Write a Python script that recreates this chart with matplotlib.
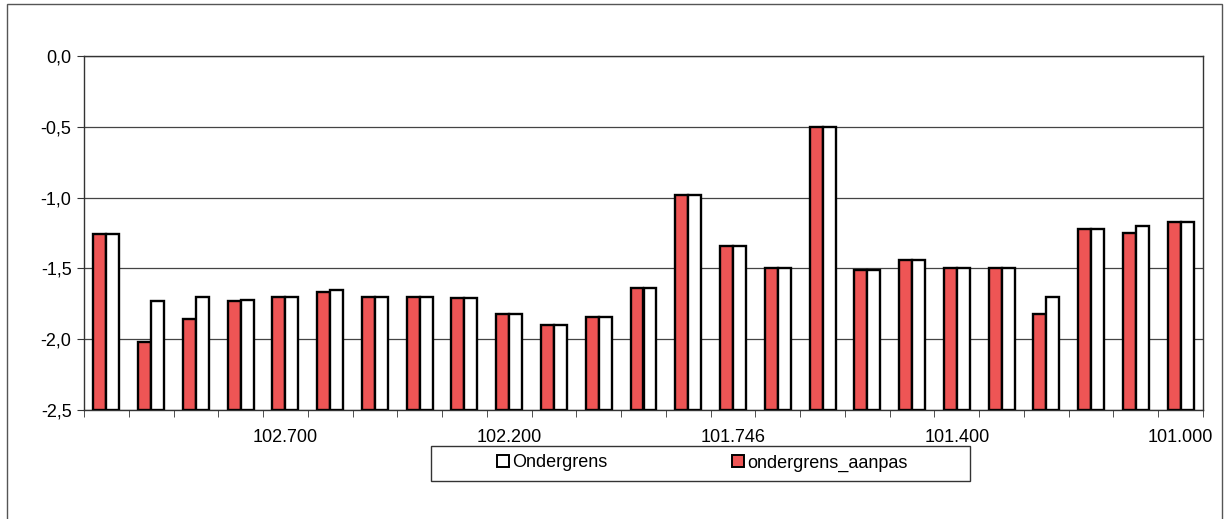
import numpy as np
import matplotlib
matplotlib.use('Agg')
import matplotlib.pyplot as plt
from matplotlib.patches import Rectangle

plt.rcParams['font.family'] = ['Liberation Sans', 'DejaVu Sans']

#Data
km_labels = ['', '', '', '', '102.700',
             '', '', '', '', '102.200',
             '', '', '', '', '101.746',
             '', '', '', '', '101.400',
             '', '', '', '', '101.000']
ondergrens_aanpas = [-1.26, -2.02, -1.86, -1.73, -1.70,
                     -1.67, -1.70, -1.70, -1.71, -1.82,
                     -1.90, -1.84, -1.64, -0.98, -1.34,
                     -1.50, -0.50, -1.51, -1.44, -1.50,
                     -1.50, -1.82, -1.22, -1.25, -1.17]
ondergrens = [-1.26, -1.73, -1.70, -1.72, -1.70,
              -1.65, -1.70, -1.70, -1.71, -1.82,
              -1.90, -1.84, -1.64, -0.98, -1.34,
              -1.50, -0.50, -1.51, -1.44, -1.50,
              -1.50, -1.70, -1.22, -1.20, -1.17]

red = '#EE5555'
fs = 13
x = np.arange(len(km_labels))
w = 0.29

fig = plt.figure(figsize=(12.26, 5.19), dpi=100)
ax = fig.add_axes([84/1226, 1-410/519, (1203-84)/1226, (410-56)/519])

ax.bar(x - w/2, ondergrens_aanpas, width=w, color=red,
       edgecolor='black', linewidth=1.7, zorder=3, label='ondergrens_aanpas')
ax.bar(x + w/2, ondergrens, width=w, color='white',
       edgecolor='black', linewidth=1.7, zorder=3, label='Ondergrens')

# bars start at -2.5 (axis crosses there, like Excel)
for p in ax.patches:
    top = p.get_y() + p.get_height()
    p.set_y(-2.5)
    p.set_height(top + 2.5)

ax.set_ylim(-2.5, 0)
ax.set_xlim(-0.5, len(km_labels) - 0.5)
yt = np.arange(-2.5, 0.01, 0.5)
ax.set_yticks(yt)
ax.set_yticklabels([('%.1f' % v).replace('.', ',') for v in yt])
ax.yaxis.grid(True, color='#444444', linewidth=0.9, zorder=0)

ax.set_xticks(x)
ax.set_xticklabels(km_labels)
ax.tick_params(axis='x', which='major', length=0, pad=14, labelsize=fs)
ax.set_xticks(np.arange(-0.5, len(km_labels)), minor=True)
ax.tick_params(axis='x', which='minor', length=5, direction='out', color='#333333')
ax.tick_params(axis='y', length=5, direction='out', labelsize=fs, pad=4, color='#333333')
for s in ax.spines.values():
    s.set_color('#333333')
    s.set_linewidth(1.0)

#Legenda
h, l = ax.get_legend_handles_labels()
leg = fig.legend(h[::-1], l[::-1], ncol=2, loc='center',
                 bbox_to_anchor=(702/1226, 1-463/519),
                 frameon=False, fontsize=fs,
                 handlelength=0.7, handleheight=0.7, handletextpad=0.15,
                 columnspacing=6.9)
for p in leg.get_patches():
    p.set_linewidth(1.4)
fig.patches.append(Rectangle((431/1226, 1-481/519), (970-431)/1226, 35/519,
                             transform=fig.transFigure, fill=False,
                             edgecolor='#333333', linewidth=1.0))

#Kader
fig.patches.append(Rectangle((7/1226, -0.05), 1215/1226, 1.05 - 4/519,
                             transform=fig.transFigure, fill=False,
                             edgecolor='#555555', linewidth=1.0))

fig.savefig('out.png', dpi=100)
